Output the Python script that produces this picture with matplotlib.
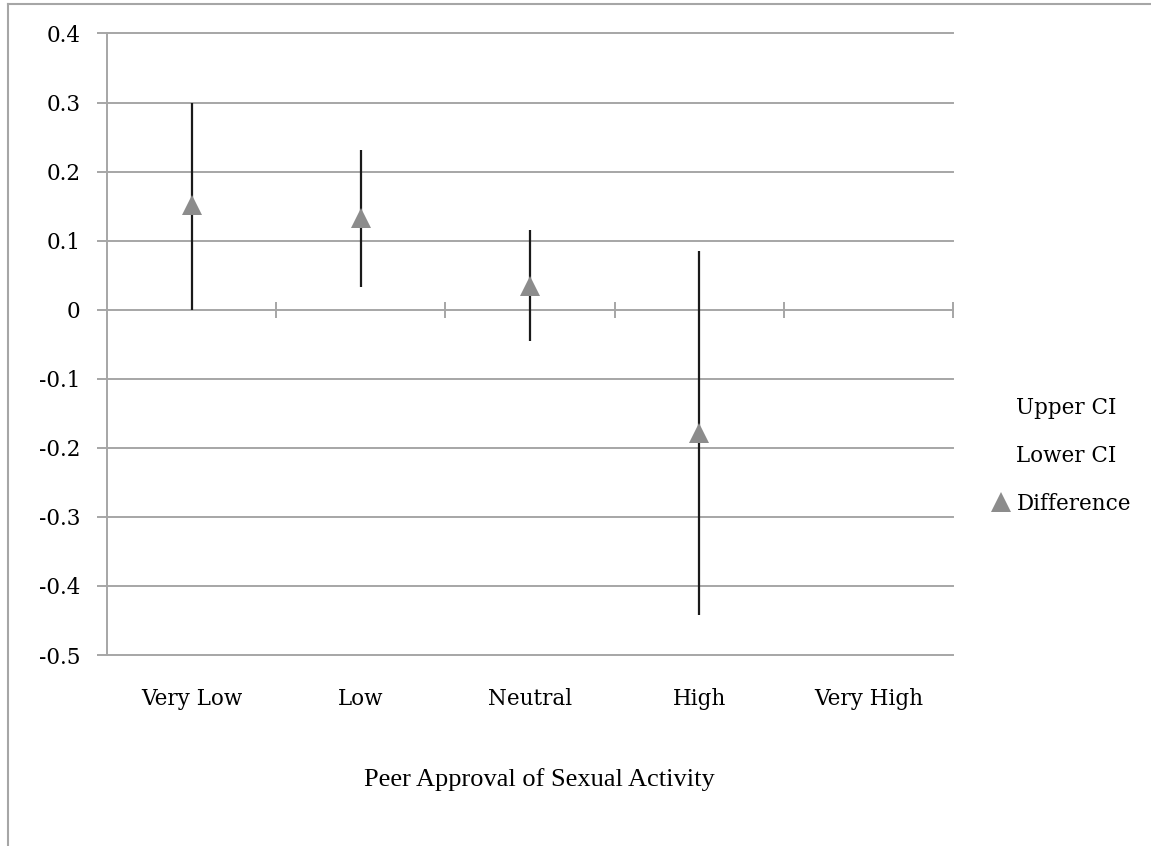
import matplotlib
matplotlib.use("Agg")
import matplotlib.pyplot as plt
from matplotlib.lines import Line2D
import numpy as np

categories = ["Very Low", "Low", "Neutral", "High", "Very High"]
difference = [0.151, 0.133, 0.035, -0.178]
upper_ci = [0.300, 0.231, 0.116, 0.085]
lower_ci = [0.000, 0.033, -0.046, -0.442]
y_ticks = [0.4, 0.3, 0.2, 0.1, 0.0, -0.1, -0.2, -0.3, -0.4, -0.5]
y_tick_labels = ["0.4", "0.3", "0.2", "0.1", "0", "-0.1", "-0.2", "-0.3", "-0.4", "-0.5"]

tick_font = "DejaVu Serif"
title_font = "Liberation Serif"
grid_color = "#a6a6a6"
tri_color = "#8c8c8c"
fs = 15.5

fig = plt.figure(figsize=(11.51, 8.46), dpi=100)
ax = fig.add_axes([107 / 1151, 1 - 655 / 846, (953 - 107) / 1151, (655 - 33.5) / 846])

ymin, ymax = -0.5, 0.4
ax.set_ylim(ymin, ymax)
ax.set_xlim(-0.5, len(categories) - 0.5)

# gridlines
for v in y_ticks:
    ax.axhline(v, color=grid_color, lw=1.4, zorder=1, clip_on=False)

# error bars
x = np.arange(len(difference))
ax.vlines(x, lower_ci, upper_ci, color="#1a1a1a", lw=1.6, zorder=3)
ax.plot(x, difference, linestyle="none", marker="^", markersize=14,
        color=tri_color, markeredgewidth=0, zorder=4)

# spines
for s in ["top", "right", "bottom"]:
    ax.spines[s].set_visible(False)
ax.spines["left"].set_color(grid_color)
ax.spines["left"].set_linewidth(1.4)

ax.set_yticks(y_ticks)
ax.set_yticklabels(y_tick_labels, fontfamily=tick_font, fontsize=fs)
ax.tick_params(axis="y", length=7, width=1.4, color=grid_color, pad=12)

ax.set_xticks(np.arange(len(categories)))
ax.set_xticklabels(categories, fontfamily=tick_font, fontsize=fs)
ax.tick_params(axis="x", length=0, pad=24)

# tick marks on zero line at category boundaries
loc0 = (0 - ymin) / (ymax - ymin)
sec = ax.secondary_xaxis(loc0)
sec.set_xticks(np.arange(len(categories)) + 0.5)
sec.set_xticklabels([])
sec.tick_params(axis="x", direction="inout", length=12, width=1.4, color=grid_color)
sec.spines["bottom"].set_visible(False)
sec.spines["top"].set_visible(False)

# axis title
fig.text(539 / 1151, 1 - 780 / 846, "Peer Approval of Sexual Activity",
         fontfamily=title_font, fontsize=19, ha="center", va="center")

# legend
handles = [
    Line2D([], [], color="none"),
    Line2D([], [], color="none"),
    Line2D([], [], linestyle="none", marker="^", markersize=14, color=tri_color, markeredgewidth=0),
]
leg = fig.legend(handles, ["Upper CI", "Lower CI", "Difference"], loc="center left",
                 bbox_to_anchor=(982 / 1151, 1 - 456 / 846), frameon=False,
                 prop={"family": tick_font, "size": fs}, handlelength=1.0,
                 handletextpad=0.2, labelspacing=1.2, borderaxespad=0)

# outer frame
fig.add_artist(Line2D([8 / 1151, 8 / 1151], [0, 1 - 4.5 / 846], transform=fig.transFigure,
                      color="#a6a6a6", lw=1.5))
fig.add_artist(Line2D([8 / 1151, 1], [1 - 4.5 / 846, 1 - 4.5 / 846], transform=fig.transFigure,
                      color="#a6a6a6", lw=1.5))

fig.savefig("out.png", dpi=100)
